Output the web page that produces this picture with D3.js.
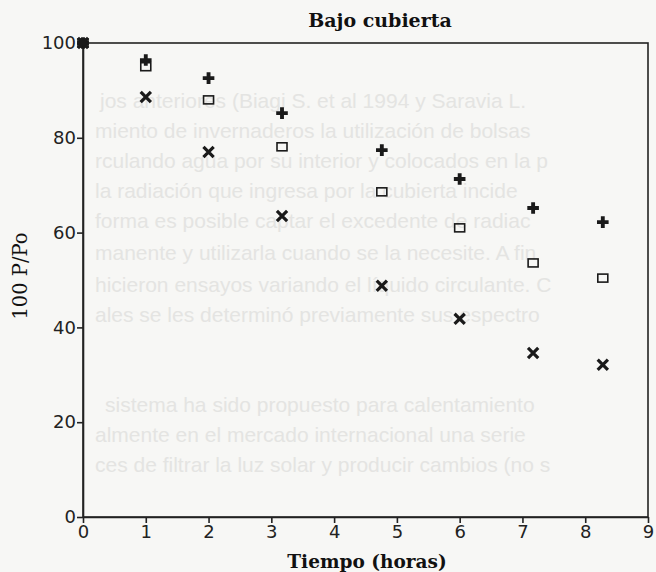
<!DOCTYPE html>
<html>
<head>
<meta charset="utf-8">
<script src="https://cdn.jsdelivr.net/npm/d3@7"></script>
<style>
  html, body { margin: 0; padding: 0; background: #f7f7f5; }
  #svg-container { width: 656px; height: 572px; }
  .tick text { font-family: "DejaVu Sans", sans-serif; font-size: 18px; fill: #222; }
  .tick line, .domain { stroke: #222; stroke-width: 1.6; }
</style>
</head>
<body>
<div id="svg-container"></div>
<script>
////////////////////////////////////////////////////////////////////
////////////////////////////  Data  ////////////////////////////////
const hours = [0, 1, 2, 3.17, 4.76, 6.0, 7.17, 8.28];
const plusValues = [100, 96.4, 92.6, 85.2, 77.4, 71.3, 65.2, 62.2];
const squareValues = [100, 95.0, 88.0, 78.1, 68.6, 61.0, 53.6, 50.4];
const crossValues = [100, 88.6, 77.0, 63.5, 48.8, 41.8, 34.6, 32.1];
const xTicks = [0, 1, 2, 3, 4, 5, 6, 7, 8, 9];
const yTicks = [0, 20, 40, 60, 80, 100];

// texto del fondo (página escaneada, se transparenta)
const pageLines = [
  "jos anteriores (Biagi S. et al 1994 y Saravia L.",
  "miento de invernaderos la utilización de bolsas",
  "rculando agua por su interior y colocados en la p",
  "la radiación que ingresa por la cubierta incide",
  "forma es posible captar el excedente de radiac",
  "manente y utilizarla cuando se la necesite. A fin",
  "hicieron ensayos variando el líquido circulante. C",
  "ales se les determinó previamente sus espectro",
  "sistema ha sido propuesto para calentamiento",
  "almente en el mercado internacional una serie",
  "ces de filtrar la luz solar y producir cambios (no s"
];
const pageLineY = [108, 138, 168, 198, 228, 260, 292, 322, 412, 442, 472];
const pageLineX = [100, 95, 95, 95, 95, 95, 95, 95, 105, 95, 95];

////////////////////////////////////////////////////////////////////
////////////////////////////  Init  ///////////////////////////////
const width = 656;
const height = 572;
const margin = { top: 43, right: 8, bottom: 55, left: 83 };

const svg = d3
  .select("#svg-container")
  .append("svg")
  .attr("width", width)
  .attr("height", height);

// fondo de la página
svg
  .append("g")
  .selectAll("text")
  .data(pageLines)
  .join("text")
  .attr("x", (d, i) => pageLineX[i])
  .attr("y", (d, i) => pageLineY[i])
  .attr("font-family", "Liberation Sans, sans-serif")
  .attr("font-size", 21)
  .attr("fill", "#e4e4e2")
  .text((d) => d);

// scale
const xScale = d3.scaleLinear().domain([0, 9]).range([margin.left, width - margin.right]);
const yScale = d3.scaleLinear().domain([0, 100]).range([height - margin.bottom, margin.top]);

// marco
svg
  .append("rect")
  .attr("x", margin.left)
  .attr("y", margin.top)
  .attr("width", width - margin.right - margin.left)
  .attr("height", height - margin.bottom - margin.top)
  .attr("fill", "none")
  .attr("stroke", "#222")
  .attr("stroke-width", 1.6);

// axis
const xAxis = d3.axisBottom(xScale).tickValues(xTicks).tickSize(6).tickPadding(2).tickSizeOuter(0);
const yAxis = d3.axisLeft(yScale).tickValues(yTicks).tickSize(6).tickPadding(1).tickSizeOuter(0);

svg
  .append("g")
  .attr("class", "x-axis")
  .attr("transform", `translate(0, ${height - margin.bottom})`)
  .call(xAxis);

svg
  .append("g")
  .attr("class", "y-axis")
  .attr("transform", `translate(${margin.left},0)`)
  .call(yAxis);

// títulos
svg
  .append("text")
  .attr("x", 380)
  .attr("y", 27)
  .attr("text-anchor", "middle")
  .attr("font-family", "DejaVu Serif, serif")
  .attr("font-size", 19)
  .attr("font-weight", 600)
  .attr("fill", "#111")
  .text("Bajo cubierta");

svg
  .append("text")
  .attr("x", 367)
  .attr("y", 568)
  .attr("text-anchor", "middle")
  .attr("font-family", "DejaVu Serif, serif")
  .attr("font-size", 18.5)
  .attr("font-weight", 600)
  .attr("fill", "#111")
  .text("Tiempo (horas)");

svg
  .append("text")
  .attr("transform", "translate(27, 276) rotate(-90)")
  .attr("text-anchor", "middle")
  .attr("font-family", "DejaVu Serif, serif")
  .attr("font-size", 19.5)
  .attr("fill", "#111")
  .text("100 P/Po");

////////////////////////////////////////////////////////////////////
////////////////////////////  Markers  /////////////////////////////
const points = (values) => hours.map((h, i) => ({ x: h, y: values[i] }));

// cruz rellena (+)
svg
  .selectAll(".dot-plus")
  .data(points(plusValues))
  .join("path")
  .attr("class", "dot-plus")
  .attr("transform", (d) => `translate(${xScale(d.x)},${yScale(d.y)})`)
  .attr("d", d3.symbol(d3.symbolCross, 75))
  .attr("fill", "#1a1a1a");

// cuadrado abierto
svg
  .selectAll(".dot-square")
  .data(points(squareValues))
  .join("rect")
  .attr("class", "dot-square")
  .attr("x", (d) => xScale(d.x) - 5)
  .attr("y", (d) => yScale(d.y) - 4)
  .attr("width", 10)
  .attr("height", 8)
  .attr("fill", "none")
  .attr("stroke", "#1a1a1a")
  .attr("stroke-width", 1.6);

// aspa (x)
svg
  .selectAll(".dot-cross")
  .data(points(crossValues))
  .join("path")
  .attr("class", "dot-cross")
  .attr("transform", (d) => `translate(${xScale(d.x)},${yScale(d.y)})`)
  .attr("d", d3.symbol(d3.symbolX, 70))
  .attr("fill", "none")
  .attr("stroke", "#1a1a1a")
  .attr("stroke-width", 3.2);
</script>
</body>
</html>
